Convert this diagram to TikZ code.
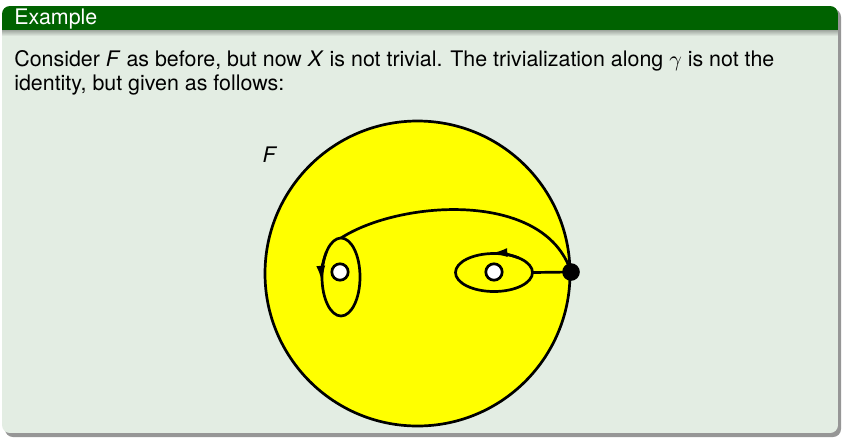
\documentclass[tikz,border=0pt]{standalone}
\usepackage{fontspec}
\setmainfont{TeX Gyre Heros}
\usetikzlibrary{arrows.meta}
\definecolor{exgreen}{RGB}{0,98,0}
\definecolor{exbody}{RGB}{227,237,227}
\definecolor{exshade}{RGB}{150,150,150}
\definecolor{sunyellow}{RGB}{255,255,0}

\begin{document}
\begin{tikzpicture}[x=0.5pt, y=0.5pt, line width=1.35pt,
    txt/.style={font=\fontsize{10.7}{12}\selectfont, inner sep=0pt, anchor=base west},
    hole/.style={circle, draw, fill=white, minimum size=8.2pt, inner sep=0pt},
    looptip/.style={-{Latex[length=9pt,width=4.4pt]}}]
  \useasboundingbox (0,0) rectangle (844,441);
  % block with shadow
  \fill[exshade, rounded corners=4pt] (5,4) rectangle (841,432);
  \begin{scope}
    \clip[rounded corners=4pt] (2,8) rectangle (838,435);
    \fill[exbody] (2,8) rectangle (838,435);
    \fill[exgreen] (2,411) rectangle (838,435);
    \shade[top color=exbody!70!black, bottom color=exbody] (2,405) rectangle (838,411);
  \end{scope}
  \node[txt, white] (title) at (13,417) {Example};
  \node[txt] (line1) at (13,375) {Consider \textit{F} as before, but now \textit{X} is not trivial. The trivialization along $\gamma$ is not the};
  \node[txt] (line2) at (13,351) {identity, but given as follows:};
  % the disc
  \draw[fill=sunyellow] (417.5,167.5) circle (152.5);
  \node[txt, anchor=center] (flabel) at (270,286) {\textit{F}};
  \coordinate (lmid) at (341,164);
  \coordinate (rmid) at (494,168.5);
  \draw (lmid) ellipse (19 and 39);
  \draw (rmid) ellipse (38.5 and 19);
  \draw[looptip] (lmid) ++(140:19 and 39) arc[start angle=140, end angle=190, x radius=19, y radius=39];
  \draw[looptip] (rmid) ++(50:38.5 and 19) arc[start angle=50, end angle=97, x radius=38.5, y radius=19];
  \coordinate (ltop) at (341,203);
  \coordinate (reast) at (532.5,168.5);
  \node[hole] (lhole) at (340,169) {};
  \node[hole] (rhole) at (494,169) {};
  \node[circle, fill, minimum size=8.8pt, inner sep=0pt] (base) at (571,169) {};
  \draw (base.center) -- (reast);
  \draw (base.center) .. controls (545,251) and (400,241) .. (ltop);
\end{tikzpicture}
\end{document}
